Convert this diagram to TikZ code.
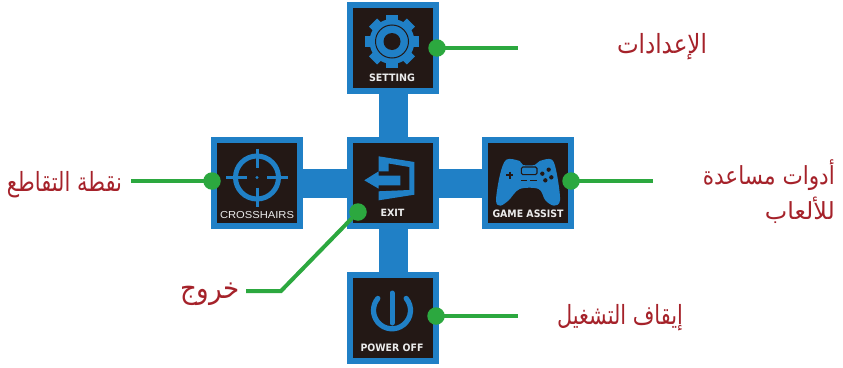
\documentclass[tikz,border=0pt]{standalone}
\usepackage{fontspec}
\usepackage{graphicx}
\setmainfont{Liberation Sans}
\newfontfamily\arabicfont[Script=Arabic]{DejaVu Sans}
\newfontfamily\capfont{DejaVu Sans}
\TeXXeTstate=1
\definecolor{panelblue}{HTML}{2080C6}
\definecolor{paneldark}{HTML}{231815}
\definecolor{leadgreen}{HTML}{2CA83F}
\definecolor{labelred}{HTML}{A5222A}
\newcommand{\fitw}[2]{\resizebox{#1}{\totalheight}{#2}}
\newcommand{\artext}[2]{\fitw{#1}{\arabicfont #2}}
\newcommand{\captext}[2]{\fitw{#1}{\capfont\bfseries #2}}
\tikzset{
  panel/.style={draw=panelblue,fill=paneldark,line width=6.5pt,minimum size=85.7pt,inner sep=0pt,shape=rectangle},
  bar/.style={draw=panelblue,line width=29pt},
  dotmark/.style={circle,fill=leadgreen,minimum size=17.5pt,inner sep=0pt},
  lead/.style={draw=leadgreen,line width=4.8pt},
  ico/.style={fill=panelblue,draw=none},
  icoline/.style={draw=panelblue},
  cutline/.style={draw=paneldark},
  captxt/.style={text=white!92!black,inner sep=0pt,font=\fontsize{10}{10}\selectfont},
  artxt/.style={text=labelred,inner sep=0pt,font=\fontsize{20}{35}\selectfont},
}
\begin{document}
\begin{tikzpicture}[x=1pt,y=-1pt]
\useasboundingbox (0,0) rectangle (843,367);
% panels
\node[panel] (setting) at (393,48) {};
\node[panel] (exitp) at (393,183) {};
\node[panel] (cross) at (257,183) {};
\node[panel] (game) at (528,183) {};
\node[panel] (power) at (393,318) {};
% bars
\draw[bar] (setting) -- (exitp);
\draw[bar] (exitp) -- (power);
\draw[bar] (cross) -- (exitp);
\draw[bar] (exitp) -- (game);
% gear
\begin{scope}[shift={(392,41.5)}]
  \foreach \a in {0,45,...,315}{
    \fill[ico,rotate=\a] (-5.8,-26.7) rectangle (5.8,0);
  }
  \fill[ico] (0,0) circle (22.5);
  \draw[cutline,line width=1pt] (0,0) circle (16.5);
  \fill[paneldark] (0,0) circle (8.5);
\end{scope}
% crosshair
\begin{scope}[shift={(257,177.5)}]
  \draw[icoline,line width=5pt] (0,0) circle (21.5);
  \draw[icoline,line width=3pt] (-31,0) -- (-10,0) (10,0) -- (31,0) (0,-29) -- (0,-10) (0,10) -- (0,29);
  \fill[ico] (0,0) circle (1.6);
\end{scope}
% exit icon
\fill[ico] (378.7,156.3) -- (414.3,162) -- (414.3,194.7) -- (378.7,200.3) -- (378.7,191.3) -- (409.3,190) -- (409.3,167) -- (388.7,163.5) -- (388.7,171.3) -- (378.7,171.3) -- cycle;
\fill[ico] (364.3,180.3) -- (378.7,171.3) -- (378.7,175.7) -- (400.3,175.7) -- (400.3,185.3) -- (378.7,185.3) -- (378.7,188.7) -- cycle;
% gamepad
\begin{scope}[shift={(488,143)},scale=1/3]
  \fill[ico] plot[smooth cycle,tension=0.55] coordinates {(55,50) (95,54) (105,66) (140,66) (155,54) (192,50) (207,95) (216,172) (198,188) (172,172) (152,138) (95,138) (62,172) (37,188) (24,172) (36,95)};
  \draw[cutline,line width=1.1pt,rounded corners=1.5pt] (100,72) -- (147,72) -- (147,95) -- (100,95) -- cycle;
  \draw[cutline,line width=1.2pt] (100,113) -- (118,113) (126,113) -- (146,113);
  \draw[cutline,line width=1.8pt] (54,97) -- (76,97) (65,86) -- (65,108);
  \fill[paneldark] (163,92) circle (6.5) (182,80) circle (6.5) (190,103) circle (6.5) (172,112) circle (6.5);
\end{scope}
% power icon
\begin{scope}[shift={(392,310.3)}]
  \draw[icoline,line width=5.2pt,line cap=round] (-40:18.5) arc[start angle=-40,end angle=220,radius=18.5];
\end{scope}
% captions
\node[captxt] (capset) at (392,78) {\captext{46pt}{SETTING}};
\node[captxt] (capexit) at (392.5,213) {\captext{24pt}{EXIT}};
\node[captxt] (capcross) at (257,215) {\fitw{74pt}{CROSSHAIRS}};
\node[captxt] (capgame) at (528,213.3) {\captext{71pt}{GAME ASSIST}};
\node[captxt] (cappower) at (392,348) {\captext{63pt}{POWER OFF}};
% power bar over
\coordinate (pwa) at (392,293);
\coordinate (pwb) at (392,323);
\draw[icoline,line width=5pt,line cap=round] (pwa) -- (pwb);
% leaders
\node[dotmark] (dset) at (437,48) {};
\node[dotmark] (dcross) at (212,181) {};
\node[dotmark] (dgame) at (571,181) {};
\node[dotmark] (dexit) at (358,212) {};
\node[dotmark] (dpower) at (436,316) {};
\coordinate (eset) at (518,48);
\coordinate (ecross) at (131,181);
\coordinate (egame) at (653,181);
\coordinate (epower) at (518,316);
\coordinate (kexit) at (281,291);
\coordinate (eexit) at (246,291);
\draw[lead] (dset.center) -- (eset);
\draw[lead] (dcross.center) -- (ecross);
\draw[lead] (dgame.center) -- (egame);
\draw[lead] (dpower.center) -- (epower);
\draw[lead,line width=4pt] (dexit.center) -- (kexit) -- (eexit);
% labels
\node[artxt] (lset) at (662,47) {\artext{90pt}{\beginR الإعدادات\endR}};
\node[artxt] (lcross) at (64.5,185) {\artext{115pt}{\beginR نقطة التقاطع\endR}};
\node[artxt] (lexit) at (210,294) {\artext{60pt}{\beginR خروج\endR}};
\node[artxt,align=right,anchor=north east] (lgame) at (835,159) {\artext{132pt}{\beginR أدوات مساعدة\endR}\\\artext{70pt}{\beginR للألعاب\endR}};
\node[artxt] (lpower) at (620,318) {\artext{126pt}{\beginR إيقاف التشغيل\endR}};
\end{tikzpicture}
\end{document}
